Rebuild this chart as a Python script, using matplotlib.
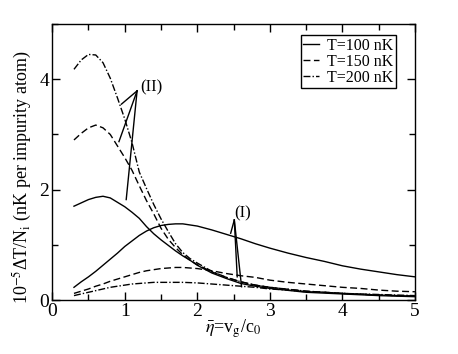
import numpy as np
import matplotlib
matplotlib.use("Agg")
import matplotlib.pyplot as plt
from matplotlib.ticker import MultipleLocator

# curve family (II): peaked at small eta
x_ii = [0.3, 0.4, 0.5, 0.6, 0.7, 0.8, 0.9, 1.0, 1.1, 1.2, 1.3, 1.4, 1.5, 1.6,
        1.7, 1.8, 1.9, 2.0, 2.2, 2.4, 2.6, 2.8, 3.0, 3.5, 4.0, 4.5, 5.0]
ii_100 = [1.70, 1.76, 1.82, 1.86, 1.88, 1.85, 1.77, 1.69, 1.59, 1.48, 1.33, 1.20, 1.09, 0.99,
          0.89, 0.80, 0.72, 0.63, 0.49, 0.39, 0.30, 0.25, 0.21, 0.14, 0.11, 0.08, 0.06]
ii_150 = [2.90, 3.02, 3.12, 3.17, 3.12, 3.00, 2.79, 2.58, 2.35, 2.07, 1.80, 1.56, 1.30, 1.10,
          0.95, 0.82, 0.72, 0.64, 0.51, 0.41, 0.33, 0.27, 0.23, 0.16, 0.12, 0.09, 0.07]
ii_200 = [4.18, 4.35, 4.45, 4.44, 4.30, 4.02, 3.66, 3.28, 2.85, 2.32, 2.02, 1.73, 1.47, 1.24,
          1.02, 0.86, 0.75, 0.67, 0.52, 0.41, 0.33, 0.27, 0.23, 0.16, 0.12, 0.09, 0.07]

# curve family (I): broad maximum near eta ~ 1.7
x_i = [0.3, 0.4, 0.5, 0.6, 0.7, 0.8, 0.9, 1.0, 1.1, 1.2, 1.3, 1.4, 1.5, 1.6, 1.7, 1.8,
       2.0, 2.2, 2.4, 2.6, 2.8, 3.0, 3.25, 3.5, 3.75, 4.0, 4.25, 4.5, 4.75, 5.0]
i_100 = [0.23, 0.33, 0.42, 0.52, 0.63, 0.74, 0.85, 0.97, 1.07, 1.17, 1.25, 1.31, 1.35, 1.37, 1.38, 1.38,
         1.34, 1.27, 1.19, 1.11, 1.02, 0.94, 0.85, 0.77, 0.70, 0.62, 0.56, 0.51, 0.46, 0.42]
i_150 = [0.12, 0.16, 0.20, 0.25, 0.29, 0.34, 0.38, 0.42, 0.46, 0.50, 0.53, 0.55, 0.57, 0.58, 0.59, 0.59,
         0.57, 0.53, 0.48, 0.44, 0.41, 0.36, 0.32, 0.29, 0.26, 0.23, 0.21, 0.18, 0.16, 0.15]
i_200 = [0.08, 0.11, 0.14, 0.17, 0.20, 0.23, 0.25, 0.27, 0.29, 0.30, 0.31, 0.32, 0.32, 0.32, 0.32, 0.32,
         0.31, 0.29, 0.27, 0.25, 0.23, 0.20, 0.18, 0.15, 0.14, 0.12, 0.11, 0.10, 0.09, 0.08]

labels = ["T=100 nK", "T=150 nK", "T=200 nK"]

# annotation pointers: label position, apex, and the curve points they touch
lab_ii, apex_ii = (1.37, 3.85), (1.17, 3.79)
tips_ii = [(0.955, 3.55), (0.92, 2.87), (1.02, 1.82)]
lab_i, apex_i = (2.63, 1.57), (2.51, 1.45)
tips_i = [(2.46, 1.21), (2.55, 0.42), (2.61, 0.24)]

plt.rcParams["font.family"] = ["Liberation Serif", "DejaVu Serif"]
plt.rcParams["mathtext.fontset"] = "stix"

fig = plt.figure(figsize=(4.58, 3.54), dpi=100)
ax = fig.add_axes([0.114, 0.1525, 0.792, 0.7795])

styles = ["-", (0, (5, 2.5)), (0, (5, 1.5, 1, 1.5))]
for ys_ii, ys_i, ls, lab in zip([ii_100, ii_150, ii_200], [i_100, i_150, i_200], styles, labels):
    ax.plot(x_ii, ys_ii, color="black", lw=1.0, ls=ls, label=lab)
    ax.plot(x_i, ys_i, color="black", lw=1.0, ls=ls)

for tip in tips_ii:
    ax.plot([apex_ii[0], tip[0]], [apex_ii[1], tip[1]], color="black", lw=1.0)
for tip in tips_i:
    ax.plot([apex_i[0], tip[0]], [apex_i[1], tip[1]], color="black", lw=1.0)
ax.text(*lab_ii, "(II)", fontsize=12, ha="center", va="center")
ax.text(*lab_i, "(I)", fontsize=12, ha="center", va="center")

ax.set_xlim(0, 5)
ax.set_ylim(0, 5)
ax.xaxis.set_major_locator(MultipleLocator(1))
ax.xaxis.set_minor_locator(MultipleLocator(0.5))
ax.yaxis.set_major_locator(MultipleLocator(2))
ax.yaxis.set_minor_locator(MultipleLocator(1))
ax.tick_params(which="both", direction="in", top=True, right=True, labelsize=14, width=1.0)
ax.tick_params(which="major", length=6, pad=2)
ax.tick_params(which="minor", length=4)
for sp in ax.spines.values():
    sp.set_linewidth(1.0)

ax.set_xlabel(r"$\bar{\eta}$=v$_{\rm g}$/c$_0$", fontsize=13, labelpad=-2)
ax.set_ylabel(r"10$^{-5}$ΔT/N$_{\rm i}$ (nK per impurity atom)", fontsize=13)
ax.yaxis.set_label_coords(-0.05, 0.446)

leg = ax.legend(loc="upper right", bbox_to_anchor=(0.947, 0.96), fontsize=11.5,
                handlelength=1.0, handletextpad=0.5, borderpad=0.15, labelspacing=0.0,
                borderaxespad=0.0, fancybox=False, framealpha=1)
leg.get_frame().set_edgecolor("black")
leg.get_frame().set_linewidth(1.0)

fig.savefig("out.png", dpi=100)
